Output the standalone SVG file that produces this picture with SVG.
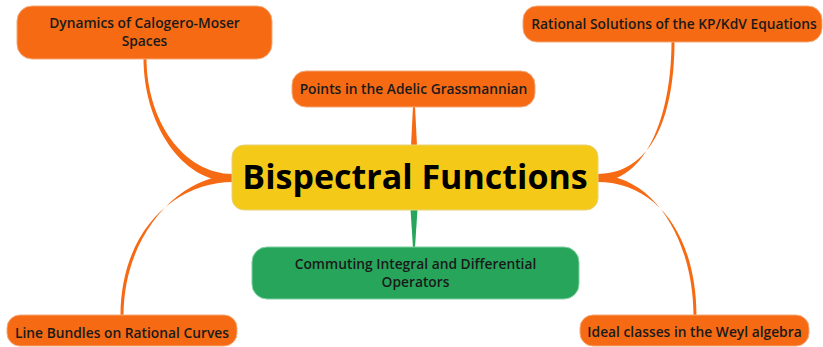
<svg xmlns="http://www.w3.org/2000/svg" width="823" height="347" viewBox="0 0 823 347">
<style>
.o{fill:#F66A14;stroke:#f3a978;stroke-width:1}
.g{fill:#27A65B;stroke:#7fcf9f;stroke-width:1}
.y{fill:#F5C918;stroke:#e8d27a;stroke-width:1}
.t{font-family:"Open Sans","Noto Sans",sans-serif;font-weight:600;font-size:13.8px;fill:#1a1a1a;text-anchor:middle}
.T{font-family:"Open Sans","Noto Sans",sans-serif;font-weight:700;font-size:34px;fill:#000;text-anchor:middle}
.co{fill:#F66A14}
.cg{fill:#27A65B}
</style>
<rect width="823" height="347" fill="#fff"/>
<g id="connectors">
<path class="co" d="M233,174 C183,174 146.5,120 146.5,58 L143.5,58 C143.5,122 180,182 233,182 Z"/>
<path class="co" d="M233,182 C176,182 120.5,230 120.5,316 L123.5,316 C123.5,232 182,175 233,175 Z"/>
<path class="co" d="M597,174 C650,174 674.5,120 674.5,41 L671.5,41 C671.5,118 645,182 597,182 Z"/>
<path class="co" d="M597,182 C660,182 696.5,240 696.5,316 L693.5,316 C693.5,242 655,175 597,175 Z"/>
<path class="co" d="M413,106 L415,106 L417,146 L411,146 Z"/>
<path class="cg" d="M410.5,209 L417.5,209 L415,248 L413,248 Z"/>
</g>
<g id="dynamics">
<rect class="o" x="17" y="6" width="255" height="53" rx="15"/>
<text class="t" x="144.5" y="28">Dynamics of Calogero-Moser</text>
<text class="t" x="144.5" y="46">Spaces</text>
</g>
<g id="rational">
<rect class="o" x="523" y="6" width="299" height="36" rx="14"/>
<text class="t" x="674" y="29">Rational Solutions of the KP/KdV Equations</text>
</g>
<g id="points">
<rect class="o" x="292" y="71" width="243" height="36" rx="14"/>
<text class="t" x="413.5" y="94">Points in the Adelic Grassmannian</text>
</g>
<g id="bispectral">
<rect class="y" x="232" y="145" width="366" height="65" rx="12"/>
<text class="T" x="415" y="189">Bispectral Functions</text>
</g>
<g id="commuting">
<rect class="g" x="252" y="247" width="327" height="52" rx="15"/>
<text class="t" x="415.5" y="269">Commuting Integral and Differential</text>
<text class="t" x="415.5" y="287">Operators</text>
</g>
<g id="linebundles">
<rect class="o" x="7" y="315" width="230" height="31" rx="13"/>
<text class="t" x="122" y="338">Line Bundles on Rational Curves</text>
</g>
<g id="ideal">
<rect class="o" x="580" y="315" width="229" height="31" rx="13"/>
<text class="t" x="694.5" y="337">Ideal classes in the Weyl algebra</text>
</g>
</svg>
